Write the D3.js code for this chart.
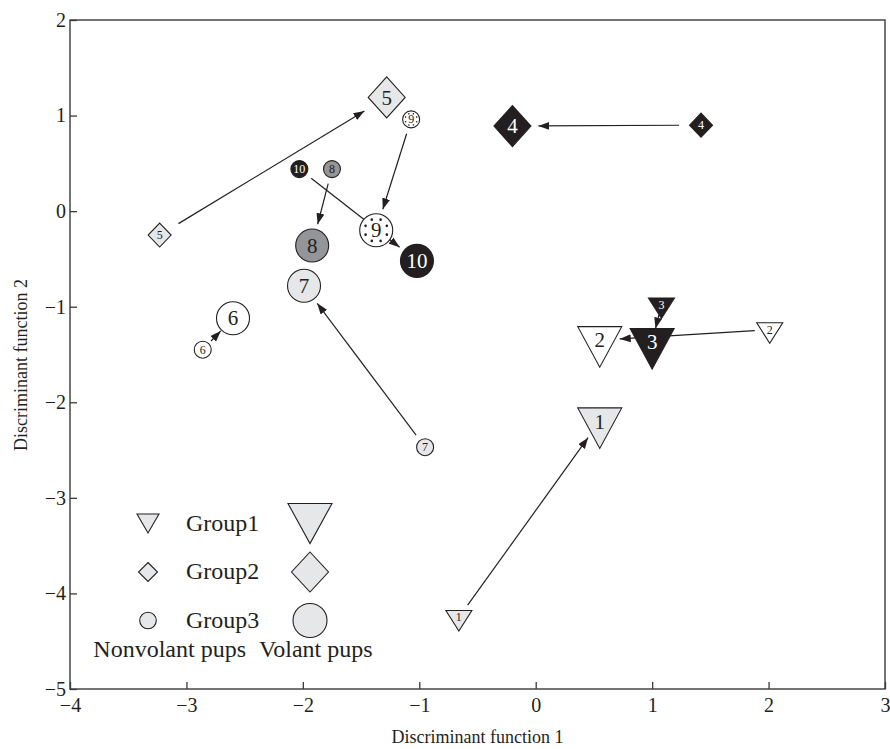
<!DOCTYPE html>
<html>
<head>
<meta charset="utf-8">
<script src="https://cdnjs.cloudflare.com/ajax/libs/d3/7.8.5/d3.min.js"></script>
<style>
body { margin: 0; background: #fff; }
text { font-family: "Liberation Serif", "Times New Roman", serif; }
</style>
</head>
<body>
<svg id="chart" width="890" height="749"></svg>
<script>
// pup groups: 1 = Group1 (triangle), 2 = Group2 (diamond), 3 = Group3 (circle)
var pupIds = [1, 2, 3, 4, 5, 6, 7, 8, 9, 10]
var pupGroup = [1, 1, 1, 2, 2, 3, 3, 3, 3, 3]
var nonvolantX = [-0.66, 2.01, 1.08, 1.42, -3.23, -2.86, -0.95, -1.75, -1.07, -2.03]
var nonvolantY = [-4.25, -1.24, -0.98, 0.90, -0.25, -1.45, -2.47, 0.44, 0.96, 0.44]
var volantX = [0.55, 0.55, 1.00, -0.20, -1.28, -2.60, -1.99, -1.92, -1.37, -1.02]
var volantY = [-2.20, -1.35, -1.37, 0.89, 1.19, -1.12, -0.78, -0.36, -0.20, -0.52]

var legendLabels = ["Group1", "Group2", "Group3"]
var stageLabels = ["Nonvolant pups", "Volant pups"]
var xTicks = [-4, -3, -2, -1, 0, 1, 2, 3]
var yTicks = [-5, -4, -3, -2, -1, 0, 1, 2]
var xTitle = "Discriminant function 1"
var yTitle = "Discriminant function 2"

// look of each numbered pup
var ink = "#231f20"
var fillOf = {1: "#e6e7e8", 2: "#ffffff", 3: ink, 4: ink, 5: "#e6e7e8", 6: "#ffffff", 7: "#e6e7e8", 8: "#939598", 9: "#ffffff", 10: ink}
var dottedOf = {9: true}

var sizes = {
	small: {tri: [26, 20.5], dia: [11.5, 12], circ: 8.5, font: 12, dotR: 6, dot: 0.8},
	big: {tri: [44, 40.5], dia: [18.5, 20.5], circ: 16.5, font: 21, dotR: 11.5, dot: 1.3}
}
var legendSizes = {
	small: {tri: [22, 19], dia: [9.5, 9.5], circ: 8.3},
	big: {tri: [44, 40], dia: [18.5, 20], circ: 17}
}
var startGap = {1: 15, 2: 22, 3: 15}
var endGap = {1: 20, 2: 26, 3: 22}

var svg = d3.select("#chart")

var x = d3.scaleLinear().domain([-4, 3]).range([70, 885])
var y = d3.scaleLinear().domain([-5, 2]).range([689, 20])

var pups = pupIds.map((id, i) => ({
	id: id,
	group: pupGroup[i],
	nx: nonvolantX[i],
	ny: nonvolantY[i],
	vx: volantX[i],
	vy: volantY[i]
}))

function shapePath(group, s) {
	if (group == 1) {
		let w = s.tri[0], h = s.tri[1]
		return "M" + (-w / 2) + "," + (-h / 3) + "L" + (w / 2) + "," + (-h / 3) + "L0," + (2 * h / 3) + "Z"
	}
	if (group == 2) {
		let a = s.dia[0], b = s.dia[1]
		return "M0," + (-b) + "L" + a + ",0L0," + b + "L" + (-a) + ",0Z"
	}
	let r = s.circ
	return "M" + r + ",0A" + r + "," + r + " 0 1 1 " + (-r) + ",0A" + r + "," + r + " 0 1 1 " + r + ",0Z"
}

// frame and axes
svg.append("rect")
.attr("x", x(-4))
.attr("y", y(2))
.attr("width", x(3) - x(-4))
.attr("height", y(-5) - y(2))
.attr("fill", "none")
.attr("stroke", "#3a3a3a")
.attr("stroke-width", 1.4)

var xAxis = d3.axisBottom(x)
.tickValues(xTicks)
.tickFormat(d3.format("d"))
.tickSizeInner(-7)
.tickSizeOuter(0)
.tickPadding(9)

var yAxis = d3.axisLeft(y)
.tickValues(yTicks)
.tickFormat(d3.format("d"))
.tickSizeInner(-7)
.tickSizeOuter(0)
.tickPadding(4)

svg.append("g")
.attr("transform", "translate(0," + y(-5) + ")")
.call(xAxis)
.call(g => g.select(".domain").remove())

svg.append("g")
.attr("transform", "translate(" + x(-4) + ",0)")
.call(yAxis)
.call(g => g.select(".domain").remove())

svg.selectAll(".tick line")
.attr("stroke", "#3a3a3a")
.attr("stroke-width", 1.3)

svg.selectAll(".tick text")
.attr("font-family", "Liberation Serif, serif")
.attr("font-size", 20)
.attr("fill", ink)

svg.append("text")
.attr("x", (x(-4) + x(3)) / 2)
.attr("y", 743)
.attr("text-anchor", "middle")
.attr("font-size", 18)
.attr("fill", ink)
.text(xTitle)

svg.append("text")
.attr("transform", "translate(27,365) rotate(-90)")
.attr("text-anchor", "middle")
.attr("font-size", 18)
.attr("fill", ink)
.text(yTitle)

// arrows from nonvolant to volant position
svg.append("defs")
.append("marker")
.attr("id", "head")
.attr("viewBox", "0 0 11 8")
.attr("refX", 11)
.attr("refY", 4)
.attr("markerWidth", 11)
.attr("markerHeight", 8)
.attr("markerUnits", "userSpaceOnUse")
.attr("orient", "auto")
.append("path")
.attr("d", "M0,0L11,4L0,8Z")
.attr("fill", ink)

function arrowEnds(d) {
	let x0 = x(d.nx), y0 = y(d.ny), x1 = x(d.vx), y1 = y(d.vy)
	let dx = x1 - x0, dy = y1 - y0
	let len = Math.hypot(dx, dy)
	let g0 = startGap[d.group], g1 = endGap[d.group]
	if (len - g0 - g1 < 14) {
		let k = (len - 14) / (g0 + g1)
		g0 *= k
		g1 *= k
	}
	return [x0 + dx * g0 / len, y0 + dy * g0 / len, x1 - dx * g1 / len, y1 - dy * g1 / len]
}

svg.append("g")
.selectAll("line")
.data(pups)
.join("line")
.attr("x1", d => arrowEnds(d)[0])
.attr("y1", d => arrowEnds(d)[1])
.attr("x2", d => arrowEnds(d)[2])
.attr("y2", d => arrowEnds(d)[3])
.attr("stroke", ink)
.attr("stroke-width", 1.2)
.attr("marker-end", "url(#head)")

// markers
function drawPups(stage) {
	let s = sizes[stage]
	let g = svg.append("g")
	.selectAll("g")
	.data(pups)
	.join("g")
	.attr("transform", d => stage == "small"
		? "translate(" + x(d.nx) + "," + y(d.ny) + ")"
		: "translate(" + x(d.vx) + "," + y(d.vy) + ")")

	g.append("path")
	.attr("d", d => shapePath(d.group, s))
	.attr("fill", d => fillOf[d.id])
	.attr("stroke", ink)
	.attr("stroke-width", 1.1)

	g.filter(d => dottedOf[d.id])
	.selectAll("circle")
	.data(d3.range(8))
	.join("circle")
	.attr("cx", k => s.dotR * Math.cos(k * Math.PI / 4 + Math.PI / 8))
	.attr("cy", k => s.dotR * Math.sin(k * Math.PI / 4 + Math.PI / 8))
	.attr("r", s.dot)
	.attr("fill", ink)

	g.append("text")
	.attr("text-anchor", "middle")
	.attr("dy", "0.34em")
	.attr("font-size", s.font)
	.attr("fill", d => fillOf[d.id] == ink ? "#ffffff" : ink)
	.text(d => d.id)
}

drawPups("small")
drawPups("big")

// legend
var legendRowY = [523.5, 572, 620.5]
var legend = svg.append("g")

legendLabels.forEach((label, i) => {
	let group = i + 1
	;["small", "big"].forEach(stage => {
		let s = legendSizes[stage]
		let cx = stage == "small" ? 148 : 310
		let cy = legendRowY[i] - (group == 1 ? s.tri[1] / 6 : 0)
		legend.append("path")
		.attr("transform", "translate(" + cx + "," + cy + ")")
		.attr("d", shapePath(group, s))
		.attr("fill", "#e6e7e8")
		.attr("stroke", ink)
		.attr("stroke-width", 1.1)
	})
	legend.append("text")
	.attr("x", 186)
	.attr("y", legendRowY[i] + 7)
	.attr("font-size", 24)
	.attr("fill", ink)
	.text(label)
})

legend.append("text")
.attr("x", 246)
.attr("y", 657)
.attr("text-anchor", "end")
.attr("font-size", 24)
.attr("fill", ink)
.text(stageLabels[0])

legend.append("text")
.attr("x", 259)
.attr("y", 657)
.attr("font-size", 24)
.attr("fill", ink)
.text(stageLabels[1])
</script>
</body>
</html>
